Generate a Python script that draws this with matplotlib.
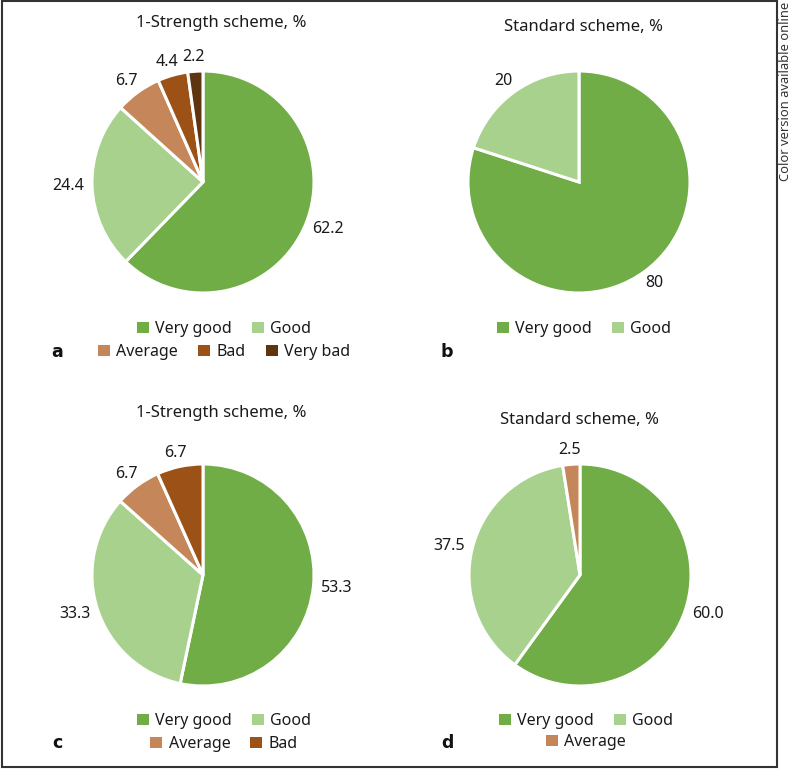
import numpy as np
import matplotlib
matplotlib.use("Agg")
import matplotlib.pyplot as plt
from matplotlib.patches import Rectangle

plt.rcParams['font.family'] = ['Noto Sans', 'DejaVu Sans']

W, H = 793, 769

# ---------------- data ----------------
categories = ["Very good", "Good", "Average", "Bad", "Very bad"]
colors_all = ["#70AD47", "#A9D18E", "#C5875A", "#9C5216", "#5E3411"]

title_strength = "1-Strength scheme, %"
title_standard = "Standard scheme, %"

vals_a = [62.2, 24.4, 6.7, 4.4, 2.2]
labels_a = ["62.2", "24.4", "6.7", "4.4", "2.2"]
vals_b = [80, 20]
labels_b = ["80", "20"]
vals_c = [53.3, 33.3, 6.7, 6.7]
labels_c = ["53.3", "33.3", "6.7", "6.7"]
vals_d = [60.0, 37.5, 2.5]
labels_d = ["60.0", "37.5", "2.5"]

panel_letters = ["a", "b", "c", "d"]

# ---------------- layout (pixels) ----------------
panels = [
    dict(vals=vals_a, labels=labels_a, title=title_strength, cx=203, cy=182, R=111,
         tpos=(221, 23), letter=(57, 352), leg_rows=[(0, 2), (2, 5)], leg_y=[329, 352], leg_x=224),
    dict(vals=vals_b, labels=labels_b, title=title_standard, cx=579, cy=182, R=111,
         tpos=(583, 27), letter=(447, 352), leg_rows=[(0, 2)], leg_y=[329], leg_x=584),
    dict(vals=vals_c, labels=labels_c, title=title_strength, cx=203, cy=575, R=111,
         tpos=(221, 413), letter=(57, 743), leg_rows=[(0, 2), (2, 4)], leg_y=[721, 744], leg_x=224),
    dict(vals=vals_d, labels=labels_d, title=title_standard, cx=580, cy=575, R=111,
         tpos=(579, 420), letter=(447, 743), leg_rows=[(0, 2), (2, 3)], leg_y=[721, 742], leg_x=586),
]

FS = 11.5
fig = plt.figure(figsize=(W / 100, H / 100), dpi=100)
fig.patch.set_facecolor("white")


def fx(x):
    return x / W


def fy(y):
    return 1 - y / H


renderer = fig.canvas.get_renderer()

for i, p in enumerate(panels):
    cx, cy, R = p["cx"], p["cy"], p["R"]
    ax = fig.add_axes([fx(cx - R), fy(cy + R), 2 * R / W, 2 * R / H])
    n = len(p["vals"])
    wedges, _ = ax.pie(p["vals"], colors=colors_all[:n], startangle=90, counterclock=False,
                       radius=1, wedgeprops=dict(edgecolor="white", linewidth=2.2))
    ax.set_xlim(-1, 1)
    ax.set_ylim(-1, 1)
    ax.set_aspect("auto")
    ax.axis("off")

    # data labels placed just outside the wedge mid-angle
    total = sum(p["vals"])
    start = 90.0
    gap = 8
    for v, lab in zip(p["vals"], p["labels"]):
        span = 360.0 * v / total
        mid = np.deg2rad(start - span / 2)
        start -= span
        t = fig.text(0, 0, lab, fontsize=FS, ha="center", va="center", color="#1a1a1a")
        bb = t.get_window_extent(renderer)
        w, h = bb.width, bb.height * 0.75
        ux, uy = np.cos(mid), np.sin(mid)
        px = cx + (R + gap) * ux + (w / 2) * ux
        py = cy - ((R + gap) * uy + (h / 2) * uy)
        t.set_position((fx(px), fy(py)))

    fig.text(fx(p["tpos"][0]), fy(p["tpos"][1]), p["title"], fontsize=12, ha="center", va="center",
             color="#1a1a1a")
    fig.text(fx(p["letter"][0]), fy(p["letter"][1]), panel_letters[i], fontsize=12.5, fontweight="bold",
             family=["DejaVu Sans"], ha="center", va="center", color="#111111")

    for (a, b), ly in zip(p["leg_rows"], p["leg_y"]):
        leg = fig.legend(wedges[a:b], categories[a:b], ncol=b - a, loc="center",
                         bbox_to_anchor=(fx(p["leg_x"]), fy(ly)), frameon=False, fontsize=FS,
                         handlelength=0.75, handleheight=0.75, handletextpad=0.4, columnspacing=1.25,
                         borderpad=0, borderaxespad=0)
        for hdl in leg.legend_handles:
            hdl.set_edgecolor("none")
        for txt in leg.get_texts():
            txt.set_color("#1a1a1a")

# frame around the figure
fig.patches.append(Rectangle((fx(2), fy(767)), fx(777) - fx(2), fy(1) - fy(767), transform=fig.transFigure,
                             fill=False, edgecolor="#333333", linewidth=1.5))
fig.text(fx(785.5), fy(2), "Color version available online", rotation=90, fontsize=9.3,
         ha="center", va="top", color="#333333")

fig.savefig("out.png", dpi=100, facecolor="white")
